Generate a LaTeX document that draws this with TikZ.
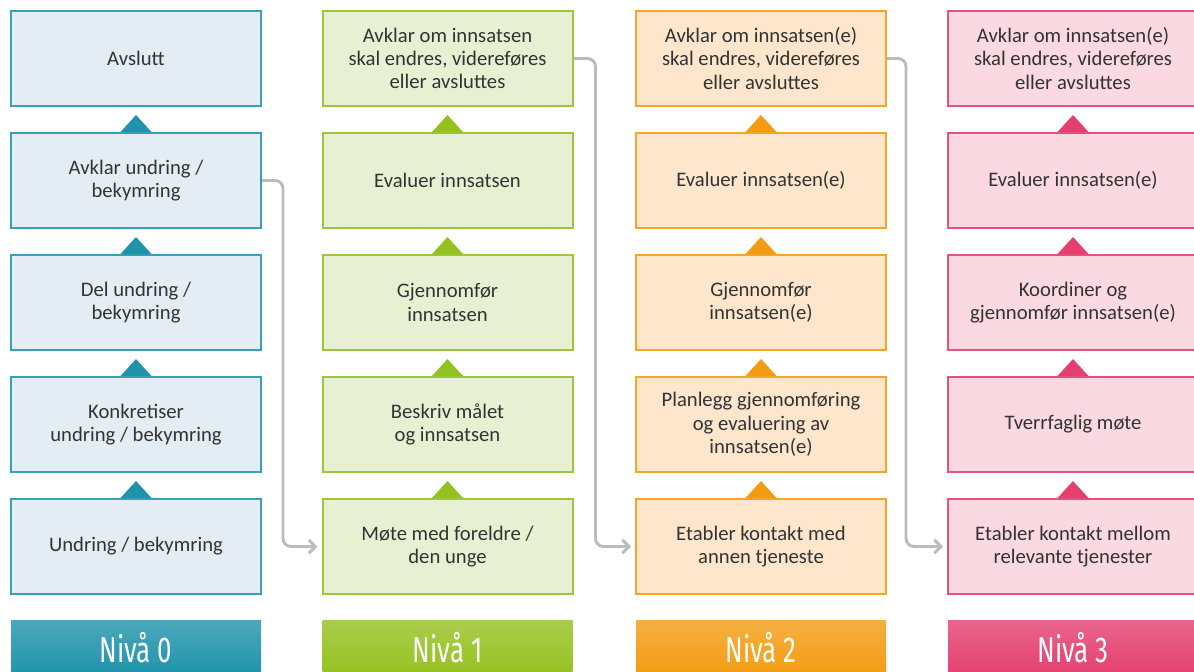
\documentclass[tikz,border=0pt]{standalone}
\usepackage{fontspec}
\setmainfont{Carlito}
\newfontfamily\headfont{Fira Sans}
\usetikzlibrary{arrows.meta}

% column colours: border, fill, marker/header
\definecolor{bd0}{HTML}{35A0B9}
\definecolor{fl0}{HTML}{E5EDF4}
\definecolor{tr0}{HTML}{1E93AA}
\definecolor{bd1}{HTML}{9CC73A}
\definecolor{fl1}{HTML}{E8F0D4}
\definecolor{tr1}{HTML}{95C11F}
\definecolor{bd2}{HTML}{F6A626}
\definecolor{fl2}{HTML}{FDE6CC}
\definecolor{tr2}{HTML}{F39C12}
\definecolor{bd3}{HTML}{E6517F}
\definecolor{fl3}{HTML}{FAD9E2}
\definecolor{tr3}{HTML}{E43F6F}
\definecolor{txt}{HTML}{333333}
\definecolor{linkgray}{HTML}{BEBBBB}

\begin{document}
\begin{tikzpicture}[x=0.75pt,y=-0.75pt,
  box/.style={draw=bd#1, fill=fl#1, line width=1.5pt, minimum width=187.5pt,
    minimum height=71.25pt, align=center, text=txt,
    font=\fontsize{15.5}{17.5}\selectfont},
  head/.style={top color=tr#1!80!white, middle color=tr#1, bottom color=tr#1,
    shading angle=0, minimum width=187.5pt, minimum height=42pt, text=white,
    font=\headfont\fontsize{27}{30}\selectfont},
  marker/.style={fill=tr#1},
  link/.style={draw=linkgray, line width=2.2pt, rounded corners=6pt,
    shorten >=3pt, -{Straight Barb[length=5pt,width=10pt]}}]
\useasboundingbox (0,0) rectangle (1194,671);

% Nivå 0
\node[box=0] (c0r1) at (136,58.5) {Avslutt};
\node[box=0] (c0r2) at (136,180.5) {Avklar undring /\\bekymring};
\node[box=0] (c0r3) at (136,302.5) {Del undring /\\bekymring};
\node[box=0] (c0r4) at (136,424.5) {Konkretiser\\undring / bekymring};
\node[box=0] (c0r5) at (136,546.5) {Undring / bekymring};

% Nivå 1
\node[box=1] (c1r1) at (447.5,58.5) {Avklar om innsatsen\\skal endres, videreføres\\eller avsluttes};
\node[box=1] (c1r2) at (447.5,180.5) {Evaluer innsatsen};
\node[box=1] (c1r3) at (447.5,302.5) {Gjennomfør\\innsatsen};
\node[box=1] (c1r4) at (447.5,424.5) {Beskriv målet\\og innsatsen};
\node[box=1] (c1r5) at (447.5,546.5) {Møte med foreldre /\\den unge};

% Nivå 2
\node[box=2] (c2r1) at (761,58.5) {Avklar om innsatsen(e)\\skal endres, videreføres\\eller avsluttes};
\node[box=2] (c2r2) at (761,180.5) {Evaluer innsatsen(e)};
\node[box=2] (c2r3) at (761,302.5) {Gjennomfør\\innsatsen(e)};
\node[box=2] (c2r4) at (761,424.5) {Planlegg gjennomføring\\og evaluering av\\innsatsen(e)};
\node[box=2] (c2r5) at (761,546.5) {Etabler kontakt med\\annen tjeneste};

% Nivå 3
\node[box=3] (c3r1) at (1073,58.5) {Avklar om innsatsen(e)\\skal endres, videreføres\\eller avsluttes};
\node[box=3] (c3r2) at (1073,180.5) {Evaluer innsatsen(e)};
\node[box=3] (c3r3) at (1073,302.5) {Koordiner og\\gjennomfør innsatsen(e)};
\node[box=3] (c3r4) at (1073,424.5) {Tverrfaglig møte};
\node[box=3] (c3r5) at (1073,546.5) {Etabler kontakt mellom\\relevante tjenester};

% Step markers
\foreach \c in {0,...,3} {
  \foreach \r in {2,...,5} {
    \fill[marker=\c] (c\c r\r.north) ++(-15.5,0) -- ++(15.5,-17) -- ++(15.5,17) -- cycle;
  }
}

% Headers
\node[head=0] (h0) at (136,648) {\scalebox{0.72}[1]{Nivå 0}};
\node[head=1] (h1) at (447.5,648) {\scalebox{0.72}[1]{Nivå 1}};
\node[head=2] (h2) at (761,648) {\scalebox{0.72}[1]{Nivå 2}};
\node[head=3] (h3) at (1073,648) {\scalebox{0.72}[1]{Nivå 3}};

% Links between levels
\draw[link] (c0r2.east) -- ++(21,0) |- (c1r5.west);
\draw[link] (c1r1.east) -- ++(22,0) |- (c2r5.west);
\draw[link] (c2r1.east) -- ++(19,0) |- (c3r5.west);
\end{tikzpicture}
\end{document}
